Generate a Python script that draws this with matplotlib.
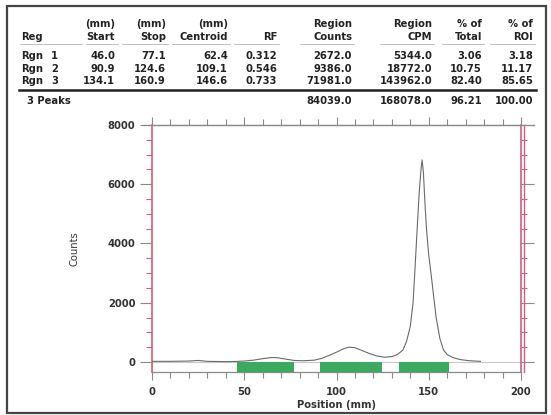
import matplotlib
matplotlib.use("Agg")
import matplotlib.pyplot as plt
from matplotlib.patches import Rectangle
from matplotlib.lines import Line2D

# ---------------- data ----------------
regions = ["Rgn 1", "Rgn 2", "Rgn 3"]
start_mm = [46.0, 90.9, 134.1]
stop_mm = [77.1, 124.6, 160.9]
centroid_mm = [62.4, 109.1, 146.6]
rf = [0.312, 0.546, 0.733]
region_counts = [2672.0, 9386.0, 71981.0]
region_cpm = [5344.0, 18772.0, 143962.0]
pct_total = [3.06, 10.75, 82.40]
pct_roi = [3.18, 11.17, 85.65]
summary = ["3 Peaks", "84039.0", "168078.0", "96.21", "100.00"]

pos_mm = [0, 10, 20, 25, 30, 40, 45, 50, 55, 60, 65, 68, 72, 77, 82, 88, 92, 96,
          100, 104, 107, 110, 114, 118, 122, 126, 130, 133, 136, 138, 140, 141.5,
          142.5, 143.7, 144.8, 145.8, 146.4, 147.1, 148.0, 148.8, 150.0, 151.0,
          152.5, 154, 156, 158, 160, 163, 167, 172, 178]
counts = [20, 20, 30, 50, 20, 10, 15, 30, 60, 110, 150, 140, 100, 50, 40, 60, 120, 220,
          330, 450, 500, 480, 380, 280, 200, 160, 180, 250, 400, 700, 1200, 2000,
          3100, 4470, 5700, 6500, 6820, 6400, 5300, 4470, 3600, 3100,
          2300, 1500, 800, 400, 250, 150, 80, 40, 20]

x_major = [0, 50, 100, 150, 200]
y_major = [0, 2000, 4000, 6000, 8000]

# ---------------- figure ----------------
W, H = 551, 415
fig = plt.figure(figsize=(W / 100, H / 100), dpi=100)
fig.patch.set_facecolor("white")
FONT = "DejaVu Sans"
TXT = "#222222"
fs = 7.2

def fx(px):
    return px / W

def fy(py):
    return 1 - py / H

def ftext(x, y, s, ha):
    fig.text(fx(x), fy(y), s, ha=ha, va="center", fontsize=fs, family=FONT,
             weight="bold", color=TXT)

# outer frame
fig.add_artist(Rectangle((fx(7), fy(413)), fx(546) - fx(7), fy(6) - fy(413),
                         transform=fig.transFigure, fill=False,
                         edgecolor="#444444", lw=1.6))

# ---------------- table ----------------
col_right = [115, 166, 228, 277, 352, 432, 482, 533]
hdr1 = ["(mm)", "(mm)", "(mm)", "", "Region", "Region", "% of", "% of"]
hdr2 = ["Start", "Stop", "Centroid", "RF", "Counts", "CPM", "Total", "ROI"]
y_h1, y_h2 = 24, 37
ftext(21, y_h2, "Reg", "left")
for xr, a, b in zip(col_right, hdr1, hdr2):
    if a:
        ftext(xr, y_h1, a, "right")
    ftext(xr, y_h2, b, "right")

# header underlines
seg = [(20, 82), (86, 118), (122, 168), (172, 230), (234, 279), (300, 354),
       (380, 434), (442, 484), (490, 535)]
for a, b in seg:
    fig.add_artist(Line2D([fx(a), fx(b)], [fy(44), fy(44)], transform=fig.transFigure,
                          color="#b8b8b8", lw=0.6))

row_y = [56, 68.5, 81]
for i, r in enumerate(regions):
    yy = row_y[i]
    name, num = r.split(" ")
    ftext(21, yy, name, "left")
    ftext(58, yy, num, "right")
    vals = [f"{start_mm[i]:.1f}", f"{stop_mm[i]:.1f}", f"{centroid_mm[i]:.1f}",
            f"{rf[i]:.3f}", f"{region_counts[i]:.1f}", f"{region_cpm[i]:.1f}",
            f"{pct_total[i]:.2f}", f"{pct_roi[i]:.2f}"]
    for xr, v in zip(col_right, vals):
        ftext(xr, yy, v, "right")

fig.add_artist(Line2D([fx(19), fx(536)], [fy(90), fy(90)], transform=fig.transFigure,
                      color="#222222", lw=1.8))
ftext(27, 101, summary[0], "left")
for xr, v in zip(col_right[4:], summary[1:]):
    ftext(xr, 101, v, "right")

# ---------------- chart ----------------
ax_l, ax_r, ax_t, ax_b = 152, 521, 125, 372
ax = fig.add_axes([fx(ax_l), fy(ax_b), fx(ax_r) - fx(ax_l), fy(ax_t) - fy(ax_b)])
ax.set_facecolor("none")
ax.set_xlim(0, 200)
ax.set_ylim(-340, 8000)

red = "#d0607a"
gray = "#8a8a8a"
green = "#3aaa5e"

for s in ["left", "right"]:
    ax.spines[s].set_color(red)
    ax.spines[s].set_linewidth(1.2)
for s in ["top", "bottom"]:
    ax.spines[s].set_color(gray)
    ax.spines[s].set_linewidth(0.9)

# region strip below zero
ax.add_patch(Rectangle((0, -340), 200, 340, facecolor="white", edgecolor="#c8c8c8",
                       lw=0.8, zorder=1))
for a, b in zip(start_mm, stop_mm):
    ax.add_patch(Rectangle((a, -330), b - a, 325, facecolor=green, edgecolor="none",
                           zorder=2))

ax.plot(pos_mm, counts, color="#6a6a6a", lw=0.8, zorder=3)

# x ticks
ax.set_xticks(x_major)
ax.set_xticks(list(range(0, 201, 10)), minor=True)
ax.tick_params(axis="x", which="both", direction="out", colors=gray, top=True,
               labeltop=False, labelsize=fs)
ax.tick_params(axis="x", which="major", length=6, width=0.8, pad=5)
ax.tick_params(axis="x", which="minor", length=4, width=0.8)
for lab in ax.get_xticklabels():
    lab.set_fontfamily(FONT)
    lab.set_fontweight("bold")
    lab.set_color("#333333")

def in_region(v):
    return any(a <= v <= b for a, b in zip(start_mm, stop_mm))

for tk in ax.xaxis.get_major_ticks() + ax.xaxis.get_minor_ticks():
    if in_region(tk.get_loc()):
        tk.tick1line.set_color(green)

# y ticks
ax.set_yticks(y_major)
ax.set_yticks(list(range(0, 8001, 500)), minor=True)
ax.tick_params(axis="y", which="both", direction="out", right=True, labelright=False,
               labelsize=fs)
ax.tick_params(axis="y", which="major", length=9, width=0.8, colors=gray, pad=3)
ax.tick_params(axis="y", which="minor", length=4, width=0.8, colors=red)
for lab in ax.get_yticklabels():
    lab.set_fontfamily(FONT)
    lab.set_fontweight("bold")
    lab.set_color("#333333")
for tk in ax.yaxis.get_minor_ticks():
    tk.tick2line.set_color("#c08090")

# double right spine line and extended top line
ax.plot([1.009, 1.009], [0.0, 1.0], transform=ax.transAxes, color=red, lw=1.0,
        clip_on=False)
ax.plot([-0.025, 1.035], [1.0, 1.0], transform=ax.transAxes, color=gray, lw=0.9,
        clip_on=False)

ax.set_xlabel("Position (mm)", fontsize=fs, family=FONT, weight="bold",
              color="#333333", labelpad=2)
ax.set_ylabel("Counts", fontsize=fs, family=FONT, color="#333333", labelpad=20)

fig.savefig("out.png", dpi=100, facecolor="white")
